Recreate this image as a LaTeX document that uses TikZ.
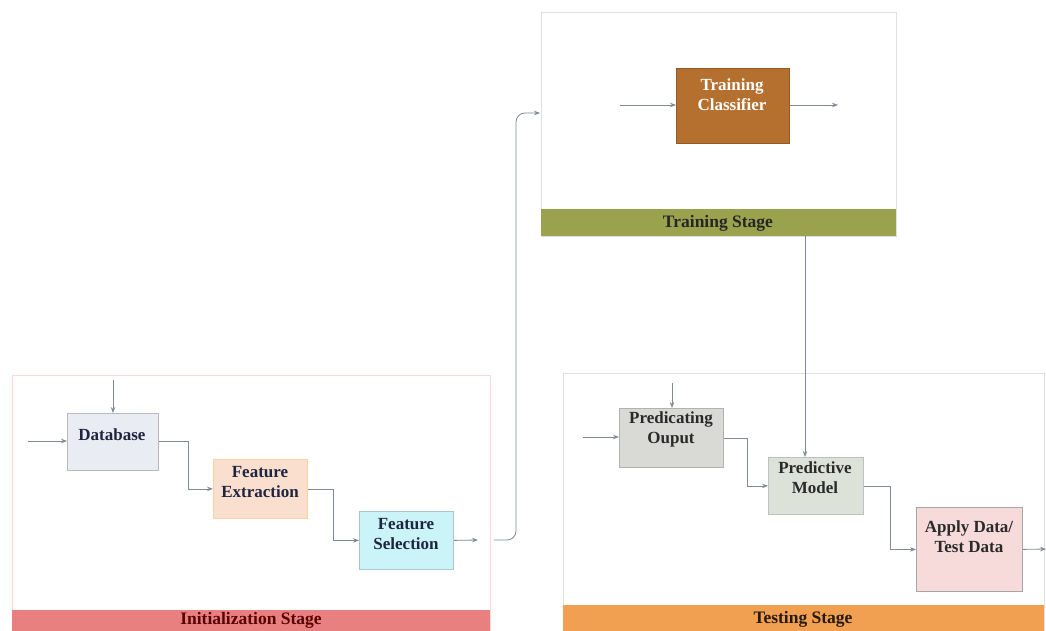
\documentclass[tikz,border=0pt]{standalone}
\usepackage{fontspec}
\setmainfont{Liberation Serif}
\usetikzlibrary{arrows.meta}
\definecolor{linegray}{HTML}{7F8A96}
\definecolor{dbfill}{HTML}{E9ECF3}
\definecolor{fefill}{HTML}{FADFCF}
\definecolor{fsfill}{HTML}{CAF4F8}
\definecolor{tcfill}{HTML}{B5702F}
\definecolor{pofill}{HTML}{D9D9D5}
\definecolor{pmfill}{HTML}{DCE2D8}
\definecolor{adfill}{HTML}{F7DADA}
\definecolor{initbar}{HTML}{E88080}
\definecolor{trainbar}{HTML}{9AA24E}
\definecolor{testbar}{HTML}{F0A050}
\definecolor{navytext}{HTML}{1E2540}
\definecolor{darktext}{HTML}{2A2A2A}
\begin{document}
\begin{tikzpicture}[x=1pt,y=-1pt,
  box/.style={draw=#1, line width=0.8pt, inner sep=0pt, anchor=north west},
  lbl/.style={font=\bfseries\fontsize{17}{20}\selectfont, align=center, text=navytext},
  conn/.style={draw=linegray, line width=0.8pt, -{Stealth[length=6pt,width=4.5pt]}},
  stageframe/.style={draw=#1, line width=0.9pt, inner sep=0pt, anchor=north west},
  stagebar/.style={fill=#1, draw=none, inner sep=0pt, anchor=north west},
  barlbl/.style={font=\bfseries\fontsize{17.5}{20}\selectfont}
]
\useasboundingbox (0,0) rectangle (1046,631);
\fill[white] (0,0) rectangle (1046,631);

% ---------- stage frames ----------
\node[stageframe=red!15, minimum width=478, minimum height=270] (initf) at (12,375) {};
\node[stagebar=initbar, minimum width=478, minimum height=30] (initb) at (12,610) {};
\node[barlbl, text=red!35!black] (initt) at (251,620.5) {Initialization Stage};

\node[stageframe=gray!25, minimum width=355, minimum height=224] (trainf) at (541,12) {};
\node[stagebar=trainbar, minimum width=355, minimum height=27] (trainb) at (541,209) {};
\node[barlbl, text=black!85] (traint) at (718,223) {Training Stage};

\node[stageframe=gray!25, minimum width=481, minimum height=270] (testf) at (563,373) {};
\node[stagebar=testbar, minimum width=481, minimum height=30] (testb) at (563,605) {};
\node[barlbl, text=black!80!brown] (testt) at (803,619) {Testing Stage};

% ---------- initialization boxes ----------
\node[box=gray!55, fill=dbfill, minimum width=91, minimum height=57] (db) at (67,413) {};
\node[lbl] (dbt) at (112,435) {Database};
\node[box=orange!35, fill=fefill, minimum width=94, minimum height=59] (fe) at (213,459) {};
\node[lbl] (fet) at (260,482) {Feature\\Extraction};
\node[box=cyan!30!gray!60, fill=fsfill, minimum width=94, minimum height=58] (fs) at (359,511) {};
\node[lbl] (fst) at (406,534) {Feature\\Selection};

% ---------- training box ----------
\node[box=tcfill!80!black, fill=tcfill, minimum width=113, minimum height=75] (tc) at (676,68) {};
\node[lbl, text=white] (tct) at (732,95) {Training\\Classifier};

% ---------- testing boxes ----------
\node[box=gray!60, fill=pofill, minimum width=104, minimum height=59] (po) at (619,408) {};
\node[lbl, text=darktext] (pot) at (671,429) {Predicating\\Ouput};
\node[box=gray!50, fill=pmfill, minimum width=95, minimum height=57] (pm) at (768,457) {};
\node[lbl, text=darktext] (pmt) at (815,478) {Predictive\\Model};
\node[box=gray!70, fill=adfill, minimum width=106, minimum height=84] (ad) at (916,507) {};
\node[lbl, text=darktext] (adt) at (969,537) {Apply Data/\\Test Data};

% ---------- free connector ends ----------
\coordinate (dbtop) at (113,380);
\coordinate (dbleft) at (28,441);
\coordinate (fsout) at (478,540);
\coordinate (lkstart) at (494,540);
\coordinate (tin) at (540,113);
\coordinate (tcl) at (620,105);
\coordinate (tcr) at (838,105);
\coordinate (tbdown) at (805,236);
\coordinate (potop) at (672,383);
\coordinate (poleft) at (583,437);
\coordinate (adout) at (1046,549);

% ---------- connectors: initialization ----------
\draw[conn] (dbtop) -- (dbtop |- db.north);
\draw[conn] (dbleft) -- (dbleft -| db.west);
\draw[conn] (db.east |- 0,441) -- ++(30,0) |- (fe.west);
\draw[conn] (fe.east) -- ++(26,0) |- (fs.west);
\draw[conn] (fs.east) -- (fsout);
\draw[conn, rounded corners=9pt] (lkstart) -- ++(22,0) |- (tin);

% ---------- connectors: training ----------
\draw[conn] (tcl) -- (tcl -| tc.west);
\draw[conn] (tc.east |- tcr) -- (tcr);
\draw[conn] (tbdown) -- (tbdown |- pm.north);

% ---------- connectors: testing ----------
\draw[conn] (potop) -- (potop |- po.north);
\draw[conn] (poleft) -- (poleft -| po.west);
\draw[conn] (po.east) -- ++(24,0) |- (pm.west);
\draw[conn] (pm.east) -- ++(27,0) |- (ad.west);
\draw[conn] (ad.east) -- (adout);
\end{tikzpicture}
\end{document}
